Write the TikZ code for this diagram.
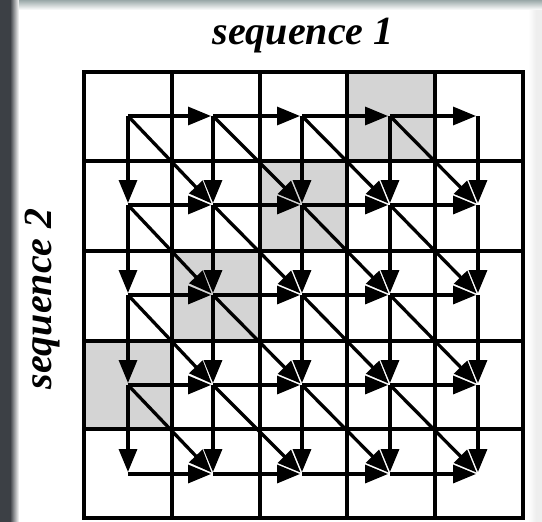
\documentclass[tikz,border=0pt]{standalone}
\usepackage{fontspec}
\setmainfont{Liberation Serif}
\usetikzlibrary{arrows.meta}
\definecolor{cellgray}{HTML}{D4D4D4}
\definecolor{edgedark}{HTML}{3C4045}
\definecolor{edgeteal}{HTML}{9AA8A8}
\definecolor{edgelight}{HTML}{EEEEEE}
\begin{document}
\begin{tikzpicture}[x=1pt,y=-1pt,
  gridline/.style={line width=3.3pt,line cap=rect},
  flow/.style={line width=3.3pt,-{Triangle[length=23pt,width=18pt]},shorten >=2pt},
  title/.style={font=\fontsize{40}{48}\selectfont\bfseries\itshape}]
\useasboundingbox (0,0) rectangle (542,522);
\fill[white] (0,0) rectangle (542,522);
% photo edges of the screenshot
\fill[edgedark] (0,0) rectangle (10,522);
\shade[left color=edgedark,right color=white] (10,0) rectangle (19,522);
\shade[top color=edgeteal,bottom color=white] (19,0) rectangle (542,10);
\shade[left color=white,right color=edgelight] (528,10) rectangle (536,522);
\fill[edgelight] (536,10) rectangle (542,522);
% shaded cells
\fill[cellgray] (347,72) rectangle (435,161);
\fill[cellgray] (260,161) rectangle (347,251);
\fill[cellgray] (172,251) rectangle (260,341);
\fill[cellgray] (84,341) rectangle (172,429);
% grid
\foreach \x in {84,172,260,347,435,523} \draw[gridline] (\x,72) -- (\x,518);
\foreach \y in {72,161,251,341,429,518} \draw[gridline] (84,\y) -- (523,\y);
% lattice points
\foreach \x [count=\j] in {128,213,302,390,478} {
  \foreach \y [count=\i] in {116,205,295,385,474} {
    \coordinate (p-\i-\j) at (\x,\y);
  }
}
% horizontal moves
\foreach \i in {1,...,5}
  \foreach \j/\k in {1/2,2/3,3/4,4/5}
    \draw[flow] (p-\i-\j) -- (p-\i-\k);
% vertical moves
\foreach \j in {1,...,5}
  \foreach \i/\k in {1/2,2/3,3/4,4/5}
    \draw[flow] (p-\i-\j) -- (p-\k-\j);
% diagonal moves
\foreach \i/\k in {1/2,2/3,3/4,4/5}
  \foreach \j/\l in {1/2,2/3,3/4,4/5}
    \draw[flow] (p-\i-\j) -- (p-\k-\l);
% labels
\node[title,anchor=base] (seq1) at (303,45) {sequence 1};
\node[title,anchor=base,rotate=90] (seq2) at (51,299) {sequence 2};
\end{tikzpicture}
\end{document}
